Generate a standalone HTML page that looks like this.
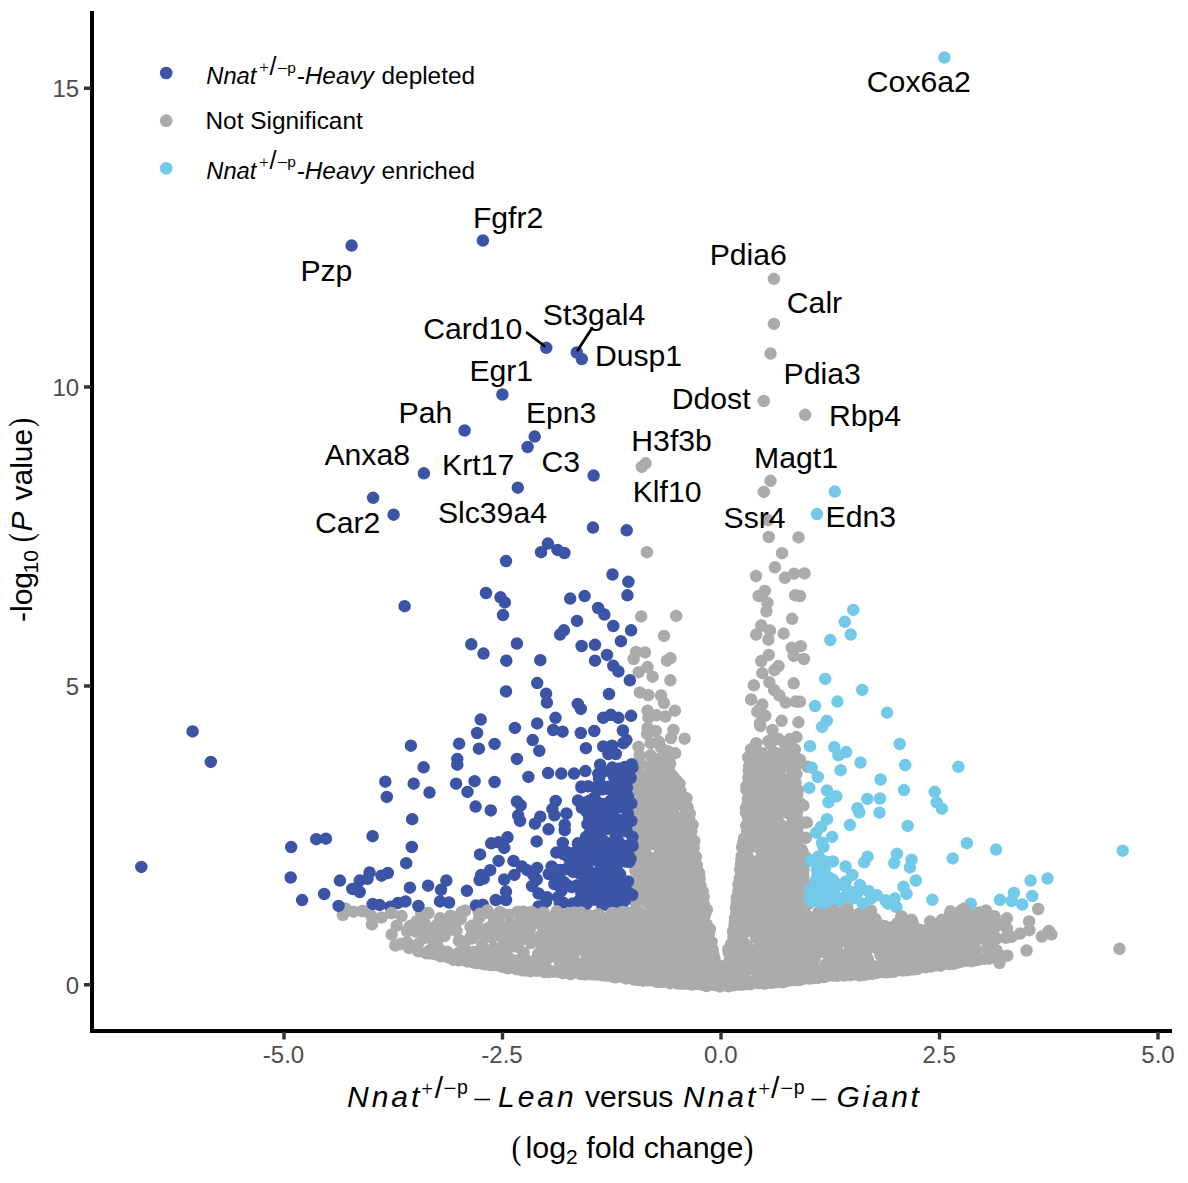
<!DOCTYPE html>
<html><head><meta charset="utf-8"><title>Volcano plot</title>
<style>
html,body{margin:0;padding:0;background:#fff;}
svg{display:block;font-family:"Liberation Sans",Arial,sans-serif;}
.tk{font-size:24px;fill:#4d4d4d;}
.gl{font-size:30.2px;fill:#000;}
.lg{font-size:24.4px;fill:#000;}
.it{font-style:italic;}
.sf{font-family:"Liberation Serif",serif;font-style:normal;}
.d{fill:none;stroke-linecap:round;stroke-width:12.5;}
.b{stroke:#3b54a5;} .g{stroke:#ababab;} .c{stroke:#73cae8;}
</style></head><body>
<svg width="1188" height="1183" viewBox="0 0 1188 1183">
<rect width="1188" height="1183" fill="#fff"/>
<!-- axes -->
<path d="M92 11V1033" stroke="#000" stroke-width="4" fill="none"/>
<path d="M90 1031H1172" stroke="#000" stroke-width="4" fill="none"/>
<g stroke="#333" stroke-width="3.4" fill="none">
<path d="M84 88.2H91M84 387H91M84 686H91M84 984.8H91"/>
<path d="M284 1032V1039.5M502.5 1032V1039.5M721 1032V1039.5M939.5 1032V1039.5M1158 1032V1039.5"/>
</g>
<g class="tk" text-anchor="end">
<text x="79.2" y="97">15</text><text x="79.2" y="395.8">10</text><text x="79.2" y="694.8">5</text><text x="79.2" y="993.6">0</text>
</g>
<g class="tk" text-anchor="middle">
<text x="283.5" y="1062.8">-5.0</text><text x="502" y="1062.8">-2.5</text><text x="720.8" y="1062.8">0.0</text><text x="939.2" y="1062.8">2.5</text><text x="1158" y="1062.8">5.0</text>
</g>
<!-- axis titles -->
<g font-size="30" fill="#000">
<text transform="translate(32.2,622) rotate(-90)">-log<tspan font-size="21" dy="6" dx="-1.5">10</tspan></text>
<text transform="translate(32.2,542.2) rotate(-90) scale(0.83 1)" class="sf" font-size="33">(</text>
<text transform="translate(32.2,531.5) rotate(-90)" class="it">P</text>
<text transform="translate(32.2,500.5) rotate(-90)">value</text>
<text transform="translate(32.2,427) rotate(-90) scale(0.83 1)" class="sf" font-size="33">)</text>
</g>
<g font-size="30" fill="#000">
<text x="347" y="1106.6" class="it" letter-spacing="3">Nnat</text>
<text x="421.3" y="1095.5" class="sf" font-size="21">+</text>
<text x="434.7" y="1097.5" font-size="30">/</text>
<text x="443.5" y="1095.5" class="sf" font-size="23">−</text>
<text x="457" y="1094" font-size="19.5">p</text>
<path d="M474.3 1099.5H490" stroke="#000" stroke-width="1.5"/>
<text x="498" y="1106.6" class="it" letter-spacing="3">Lean</text>
<text x="585" y="1106.6">versus</text>
<text x="683" y="1106.6" class="it" letter-spacing="3">Nnat</text>
<text x="758.2" y="1095.5" class="sf" font-size="21">+</text>
<text x="771" y="1097.5" font-size="30">/</text>
<text x="780.2" y="1095.5" class="sf" font-size="23">−</text>
<text x="793.7" y="1094" font-size="19.5">p</text>
<path d="M811.5 1099.5H826.3" stroke="#000" stroke-width="1.5"/>
<text x="836.4" y="1106.6" class="it" letter-spacing="2.7">Giant</text>
<text x="511.5" y="1159" class="sf" font-size="33" transform="translate(511.5 0) scale(0.9 1) translate(-511.5 0)">(</text>
<text x="525.5" y="1158" font-size="30.4">log<tspan font-size="21" dy="6">2</tspan><tspan dy="-6"> fold change</tspan></text>
<text x="743.5" y="1159" class="sf" font-size="33" transform="translate(743.5 0) scale(0.9 1) translate(-743.5 0)">)</text>
</g>
<!-- legend -->
<circle cx="166.2" cy="73" r="6.35" fill="#3b54a5"/><circle cx="166.2" cy="120.7" r="6.35" fill="#ababab"/><circle cx="166.2" cy="168.3" r="6.35" fill="#73cae8"/>
<g class="lg">
<text x="206.3" y="84" class="it" font-size="23.7">Nnat</text><text x="259" y="73.4" class="sf" font-size="17.5">+</text><text x="269.5" y="74.7" font-size="25">/</text><text x="277" y="74.8" class="sf" font-size="19.5">−</text><text x="287.2" y="72.7" font-size="15.5">p</text><text x="296.6" y="84" class="it">-Heavy</text><text x="381.5" y="84">depleted</text>
<text x="205.5" y="128.8">Not Significant</text>
<text x="206.3" y="178.5" class="it" font-size="23.7">Nnat</text><text x="259" y="167.9" class="sf" font-size="17.5">+</text><text x="269.5" y="169.2" font-size="25">/</text><text x="277" y="169.3" class="sf" font-size="19.5">−</text><text x="287.2" y="167.2" font-size="15.5">p</text><text x="296.6" y="178.5" class="it">-Heavy</text><text x="381.5" y="178.5">enriched</text>
</g>
<!-- points -->
<path class="d g" d="M645.9 937.1h0M760.6 877.5h0M641.2 915.0h0M823.8 917.4h0M759.3 819.6h0M934.1 948.9h0M766.1 758.3h0M641.8 792.1h0M676.2 828.4h0M529.3 937.7h0M721.5 985.2h0M791.6 960.4h0M686.0 882.0h0M972.4 936.9h0M761.8 961.7h0M681.6 904.9h0M741.5 923.6h0M659.6 869.2h0M666.2 844.1h0M791.5 837.4h0M558.7 915.8h0M697.4 939.6h0M800.3 803.3h0M682.5 834.4h0M945.8 957.7h0M871.7 932.5h0M762.4 958.0h0M794.3 873.5h0M685.7 891.7h0M786.4 878.8h0M664.1 760.2h0M884.0 941.0h0M736.9 903.1h0M751.8 956.3h0M637.3 806.2h0M833.9 973.5h0M808.6 917.4h0M761.5 798.0h0M699.8 888.8h0M643.0 891.4h0M497.7 916.1h0M935.7 935.6h0M608.1 966.5h0M601.9 959.3h0M635.9 932.3h0M779.3 778.9h0M600.2 923.0h0M480.0 913.7h0M699.9 900.0h0M788.8 888.7h0M749.8 793.2h0M682.6 934.7h0M761.7 969.9h0M645.3 935.1h0M790.2 792.6h0M716.4 968.4h0M746.5 915.1h0M773.6 849.4h0M761.3 810.0h0M662.2 814.0h0M787.8 830.2h0M871.4 921.5h0M611.8 976.4h0M870.4 933.4h0M702.6 966.6h0M598.6 951.7h0M759.4 954.8h0M623.8 927.9h0M599.0 917.4h0M465.0 910.7h0M763.7 885.4h0M801.9 951.2h0M746.5 786.1h0M659.9 972.1h0M517.4 961.4h0M738.2 973.3h0M580.9 912.6h0M654.3 924.9h0M798.7 896.0h0M654.6 920.0h0M494.1 948.3h0M694.8 927.6h0M624.1 957.3h0M612.9 955.2h0M672.5 843.5h0M656.3 920.2h0M849.3 942.4h0M627.3 925.7h0M776.7 803.3h0M755.0 912.5h0M645.2 819.3h0M693.6 984.0h0M755.4 846.5h0M635.6 975.5h0M641.6 808.3h0M495.8 929.1h0M902.9 931.6h0M678.5 853.2h0M802.3 934.5h0M647.1 733.9h0M686.1 810.8h0M997.2 923.5h0M656.2 954.8h0M746.7 885.9h0M801.0 876.7h0M583.2 948.2h0M682.4 841.6h0M644.3 850.6h0M549.8 937.4h0M705.7 984.1h0M764.1 876.2h0M782.6 870.5h0M901.4 964.8h0M605.3 935.8h0M804.5 971.0h0M683.1 805.7h0M856.9 946.2h0M811.0 934.1h0M755.7 814.1h0M641.1 797.3h0M749.8 767.7h0M990.2 931.0h0M644.4 861.0h0M883.6 970.4h0M779.0 889.8h0M884.3 926.0h0M683.9 861.8h0M748.0 802.6h0M772.0 784.3h0M691.0 854.8h0M742.9 951.0h0M767.8 915.3h0M794.7 818.4h0M441.6 951.0h0M533.9 941.1h0M568.2 961.3h0M547.3 959.1h0M852.7 932.3h0M950.6 949.0h0M683.9 951.4h0M471.8 938.6h0M614.4 913.2h0M773.6 857.7h0M768.0 948.0h0M754.2 911.7h0M624.8 973.4h0M797.9 790.5h0M731.8 968.0h0M652.6 976.4h0M752.2 881.2h0M593.4 948.2h0M551.7 919.8h0M956.5 935.3h0M699.5 980.2h0M641.1 923.4h0M779.4 795.3h0M670.3 904.2h0M910.6 944.3h0M647.3 963.7h0M699.1 966.7h0M796.0 866.2h0M558.3 942.0h0M755.4 805.3h0M450.4 915.8h0M783.5 930.7h0M788.7 754.0h0M532.9 939.7h0M659.6 940.1h0M746.3 789.6h0M517.3 943.4h0M653.5 891.9h0M875.2 938.1h0M709.7 969.2h0M849.0 930.4h0M734.9 982.3h0M554.5 955.4h0M736.2 916.1h0M672.7 917.9h0M901.3 941.1h0M470.7 936.6h0M605.6 938.6h0M794.6 934.9h0M960.4 924.5h0M659.5 853.6h0M586.7 955.6h0M760.0 807.0h0M748.3 800.6h0M857.7 914.9h0M747.0 920.7h0M662.1 940.7h0M416.6 928.8h0M973.3 928.7h0M757.2 798.0h0M898.8 951.5h0M798.2 876.2h0M557.9 917.0h0M661.2 855.3h0M596.6 920.5h0M689.7 960.0h0M776.1 948.9h0M803.1 967.6h0M574.5 912.5h0M793.2 781.0h0M440.1 918.2h0M741.1 883.4h0M814.4 920.4h0M874.6 967.1h0M587.3 928.8h0M572.4 961.4h0M690.5 957.4h0M489.2 955.1h0M905.3 948.7h0M583.9 966.2h0M633.9 851.4h0M782.0 794.5h0M880.7 945.6h0M795.1 847.2h0M681.5 903.7h0M596.4 929.6h0M685.2 928.1h0M512.5 939.4h0M800.4 947.3h0M644.9 926.2h0M659.0 791.4h0M809.2 932.0h0M673.7 821.5h0M657.1 830.7h0M740.3 918.8h0M932.3 951.4h0M693.0 860.1h0M748.4 777.6h0M854.7 929.4h0M667.9 971.4h0M652.6 877.6h0M745.6 928.8h0M638.7 883.9h0M572.8 941.7h0M689.9 948.9h0M987.9 943.0h0M773.1 981.7h0M757.9 786.9h0M549.1 957.3h0M841.0 933.2h0M686.2 832.7h0M792.4 943.1h0M943.7 929.3h0M653.8 936.6h0M520.0 940.8h0M908.2 926.6h0M812.3 940.1h0M770.3 940.1h0M777.5 820.0h0M658.7 884.5h0M700.8 978.0h0M667.8 931.6h0M739.5 948.3h0M797.3 794.1h0M829.9 962.6h0M868.1 912.7h0M622.3 911.9h0M541.0 916.7h0M755.9 936.8h0M712.7 953.1h0M743.9 887.6h0M525.6 919.5h0M594.2 973.0h0M736.4 913.9h0M637.3 931.1h0M841.2 920.6h0M637.6 834.2h0M826.2 914.1h0M878.4 935.3h0M783.0 762.2h0M776.4 936.3h0M661.4 850.9h0M795.5 782.8h0M948.8 931.4h0M795.9 904.7h0M667.4 891.4h0M667.9 783.3h0M654.8 907.2h0M928.7 941.7h0M763.3 795.1h0M942.1 924.2h0M513.7 962.1h0M669.2 860.6h0M798.7 910.1h0M826.5 969.9h0M472.5 930.8h0M741.8 935.4h0M788.5 863.5h0M941.7 932.3h0M956.3 943.9h0M809.5 965.5h0M833.0 944.4h0M813.4 970.5h0M576.0 919.2h0M793.7 791.4h0M729.0 972.3h0M655.7 892.7h0M767.5 883.0h0M696.4 982.3h0M535.6 918.9h0M634.5 893.6h0M474.7 961.8h0M437.0 924.8h0M614.0 917.4h0M820.5 940.1h0M666.7 775.7h0M679.3 909.7h0M777.6 881.4h0M876.5 946.8h0M746.2 900.6h0M760.4 956.0h0M763.5 818.4h0M791.7 824.5h0M683.0 889.9h0M820.2 918.1h0M761.1 973.7h0M479.3 917.9h0M956.2 952.4h0M640.7 826.8h0M791.6 895.8h0M645.1 844.0h0M803.0 894.1h0M856.0 919.2h0M668.7 876.9h0M676.1 871.3h0M681.1 978.2h0M935.8 948.6h0M501.8 963.3h0M800.1 956.3h0M887.0 932.7h0M668.7 782.6h0M907.0 950.7h0M563.4 952.0h0M767.3 812.1h0M934.9 925.1h0M652.4 795.6h0M745.6 927.1h0M890.5 950.3h0M642.8 837.7h0M763.4 903.5h0M581.3 918.0h0M635.4 871.0h0M691.0 974.5h0M795.9 966.7h0M603.1 944.9h0M766.7 889.7h0M724.3 969.6h0M600.9 964.4h0M738.2 967.3h0M653.2 798.9h0M665.7 954.4h0M638.3 887.2h0M647.9 970.9h0M753.4 931.3h0M669.0 948.8h0M422.6 912.5h0M517.8 933.3h0M957.5 958.2h0M675.1 823.7h0M435.7 933.3h0M796.5 843.9h0M833.9 911.1h0M732.6 948.4h0M598.1 960.3h0M508.8 914.9h0M825.1 939.6h0M703.3 967.8h0M572.7 963.4h0M697.8 931.4h0M761.6 904.2h0M866.1 949.1h0M568.4 963.1h0M641.7 885.5h0M666.0 788.5h0M598.4 914.2h0M755.5 777.1h0M775.4 836.7h0M511.5 946.5h0M764.7 794.6h0M917.4 931.9h0M792.2 921.6h0M525.8 913.6h0M651.8 836.0h0M607.4 948.0h0M640.7 978.3h0M661.8 803.7h0M807.0 894.9h0M786.2 922.2h0M531.3 943.1h0M657.2 938.2h0M484.2 959.8h0M657.3 927.3h0M680.4 835.7h0M593.9 932.5h0M775.1 873.5h0M636.7 836.5h0M497.5 949.7h0M703.7 940.3h0M752.1 845.5h0M754.2 880.5h0M805.6 894.1h0M738.0 907.4h0M948.4 950.9h0M607.2 925.0h0M657.7 813.6h0M672.8 857.2h0M742.9 949.1h0M797.4 942.3h0M734.5 931.2h0M663.7 952.0h0M657.6 916.8h0M660.4 965.3h0M763.9 900.2h0M772.3 948.7h0M765.0 903.6h0M636.9 957.9h0M808.8 931.7h0M683.2 880.9h0M646.1 793.7h0M675.9 941.0h0M855.0 931.6h0M737.3 932.7h0M773.4 967.2h0M819.6 972.1h0M661.2 821.4h0M788.3 931.4h0M835.1 957.9h0M638.0 944.4h0M644.7 940.2h0M763.7 859.0h0M757.2 795.1h0M671.8 850.1h0M684.9 876.1h0M850.6 975.2h0M569.9 952.8h0M809.2 928.7h0M588.6 929.7h0M695.9 971.8h0M735.9 969.2h0M835.6 944.1h0M963.5 956.9h0M541.7 919.6h0M820.4 951.9h0M542.2 948.9h0M664.2 854.7h0M948.8 957.8h0M876.5 967.7h0M954.9 934.8h0M637.9 786.3h0M767.4 847.1h0M907.2 956.9h0M739.9 882.4h0M792.6 763.5h0M504.4 942.3h0M660.6 950.3h0M591.5 916.1h0M619.4 919.0h0M821.9 917.2h0M659.6 907.3h0M772.4 906.0h0M421.2 913.1h0M542.9 912.7h0M650.1 959.7h0M586.8 966.0h0M746.1 825.8h0M790.8 947.9h0M734.4 973.4h0M955.6 920.4h0M635.7 913.0h0M656.1 863.6h0M709.9 929.2h0M671.6 880.3h0M689.6 953.6h0M868.8 915.5h0M741.0 863.7h0M746.5 967.0h0M696.6 914.9h0M643.6 812.0h0M663.7 862.6h0M987.6 940.2h0M754.2 777.9h0M791.0 877.3h0M537.2 923.0h0M624.4 915.8h0M682.8 800.7h0M588.8 925.6h0M845.6 955.5h0M763.6 811.2h0M805.4 891.1h0M783.0 785.9h0M654.3 970.1h0M467.1 952.1h0M775.6 922.9h0M550.9 944.8h0M630.7 928.7h0M880.3 954.8h0M982.0 928.9h0M635.5 851.7h0M803.8 930.7h0M691.3 928.0h0M665.0 853.4h0M722.3 979.4h0M693.3 944.4h0M679.9 822.0h0M640.0 974.3h0M824.9 942.2h0M744.0 944.1h0M767.7 811.0h0M572.5 927.4h0M666.6 966.0h0M782.7 915.4h0M680.9 892.4h0M621.8 972.6h0M812.1 949.7h0M683.8 911.1h0M788.6 846.8h0M781.0 931.4h0M796.4 774.1h0M865.8 931.6h0M950.9 937.9h0M507.3 946.7h0M898.9 929.1h0M698.2 897.5h0M637.8 911.0h0M754.5 804.4h0M801.4 860.5h0M788.8 794.8h0M755.1 888.5h0M803.4 877.0h0M959.1 913.5h0M767.8 842.9h0M644.9 846.3h0M751.0 814.3h0M647.6 899.0h0M679.2 843.8h0M660.1 785.4h0M744.4 982.5h0M543.1 966.1h0M537.2 958.4h0M489.6 927.3h0M638.5 923.2h0M686.6 823.5h0M672.0 824.0h0M669.1 839.1h0M645.2 968.4h0M791.6 946.9h0M914.8 959.3h0M778.8 869.6h0M760.9 776.9h0M773.3 935.2h0M795.7 766.5h0M602.4 924.4h0M740.7 966.1h0M674.9 972.0h0M807.1 930.9h0M674.3 931.9h0M742.8 977.4h0M807.9 961.8h0M732.3 971.8h0M729.6 961.0h0M531.0 919.7h0M970.8 921.4h0M688.1 885.7h0M777.6 910.0h0M888.6 941.2h0M635.8 789.6h0M702.2 978.4h0M952.9 946.3h0M780.2 842.0h0M681.1 983.5h0M745.7 909.2h0M937.8 930.6h0M963.0 922.7h0M796.2 814.5h0M705.9 928.2h0M643.7 914.5h0M641.4 802.6h0M636.5 899.5h0M669.3 851.6h0M584.8 962.9h0M779.7 883.1h0M901.0 949.0h0M788.3 813.3h0M559.0 929.4h0M681.3 973.1h0M776.3 850.1h0M692.8 947.0h0M949.0 929.3h0M624.5 927.2h0M729.9 952.0h0M407.0 942.0h0M635.6 864.0h0M636.6 893.7h0M841.4 969.4h0M729.6 954.0h0M686.4 947.1h0M556.6 949.8h0M559.7 961.8h0M849.7 931.9h0M640.3 764.7h0M458.9 940.8h0M695.8 981.0h0M572.9 918.3h0M797.2 847.9h0M684.1 912.5h0M505.1 958.7h0M675.9 960.9h0M754.5 908.0h0M664.8 976.4h0M772.6 924.1h0M779.8 800.8h0M554.9 935.0h0M767.1 831.1h0M761.9 858.7h0M795.3 978.9h0M976.5 929.8h0M886.5 953.4h0M881.4 932.5h0M948.1 959.5h0M881.4 955.7h0M780.8 882.0h0M631.4 957.2h0M691.4 918.5h0M792.3 844.3h0M641.8 886.8h0M743.7 977.2h0M432.5 931.4h0M738.4 979.5h0M886.1 932.5h0M662.9 946.3h0M778.7 892.9h0M750.5 982.1h0M641.4 823.2h0M563.5 937.6h0M892.3 967.2h0M801.0 968.3h0M953.3 932.0h0M458.5 953.0h0M530.6 925.8h0M770.3 839.3h0M824.1 975.9h0M882.2 934.0h0M665.4 812.0h0M904.4 955.4h0M653.1 761.9h0M796.5 902.5h0M625.5 946.9h0M778.5 908.3h0M833.6 961.4h0M748.3 893.1h0M592.7 944.5h0M667.9 832.8h0M533.4 970.3h0M651.2 790.2h0M643.0 878.9h0M873.9 926.9h0M560.4 970.4h0M598.7 923.4h0M684.8 853.2h0M689.7 908.4h0M580.4 921.1h0M734.1 969.3h0M860.7 913.7h0M772.1 853.5h0M605.8 923.0h0M642.5 791.2h0M636.7 943.8h0M744.4 878.6h0M894.2 952.1h0M662.4 878.0h0M759.4 892.3h0M791.1 805.7h0M722.2 972.9h0M762.5 837.0h0M652.2 802.4h0M595.0 925.3h0M758.1 920.1h0M740.7 920.1h0M679.0 925.9h0M764.4 817.8h0M850.8 934.5h0M790.6 964.8h0M668.4 822.3h0M709.6 944.0h0M543.2 939.4h0M808.6 929.6h0M792.6 935.4h0M557.8 957.8h0M796.8 879.0h0M793.8 849.1h0M685.0 837.7h0M741.2 864.0h0M874.6 923.0h0M567.4 914.5h0M670.5 861.1h0M639.9 960.0h0M788.7 800.4h0M771.1 794.7h0M648.9 865.1h0M979.1 912.8h0M469.5 952.4h0M750.6 964.5h0M755.2 872.9h0M640.5 946.3h0M587.2 968.1h0M532.9 964.6h0M803.4 880.5h0M653.4 833.7h0M676.2 929.8h0M779.8 787.3h0M879.7 933.0h0M776.9 809.9h0M882.0 951.6h0M634.4 975.4h0M676.9 901.7h0M735.4 970.6h0M814.3 937.3h0M797.7 837.3h0M543.2 938.0h0M634.7 823.9h0M623.5 913.1h0M503.2 932.4h0M659.8 953.2h0M795.2 808.6h0M742.4 905.4h0M686.5 898.3h0M706.9 981.5h0M652.8 918.9h0M748.8 969.6h0M770.7 920.7h0M740.8 909.9h0M799.1 802.8h0M784.6 795.0h0M782.7 804.3h0M551.5 971.2h0M636.6 952.5h0M933.1 965.0h0M655.0 818.7h0M447.4 951.8h0M744.5 921.5h0M909.8 951.5h0M864.4 965.6h0M780.0 919.6h0M767.7 937.4h0M714.2 974.6h0M624.8 954.7h0M543.5 964.1h0M770.7 782.0h0M862.9 964.6h0M752.8 774.7h0M678.6 871.2h0M619.2 953.0h0M748.4 782.3h0M735.8 933.1h0M791.3 811.4h0M652.0 890.6h0M788.8 958.5h0M703.0 934.2h0M781.2 908.2h0M652.9 782.2h0M671.6 969.5h0M763.5 886.1h0M695.3 885.4h0M696.9 983.9h0M647.3 812.1h0M686.8 856.9h0M765.9 866.8h0M661.4 757.3h0M807.7 917.4h0M852.3 919.4h0M760.7 806.9h0M679.1 951.6h0M650.5 966.3h0M703.9 911.5h0M658.2 840.0h0M692.2 939.4h0M752.9 842.3h0M897.8 937.3h0M666.2 921.5h0M674.6 862.2h0M809.8 974.0h0M648.3 800.0h0M697.5 959.8h0M762.7 981.5h0M594.8 962.2h0M670.9 801.2h0M775.3 784.2h0M689.7 813.5h0M416.1 931.8h0M473.9 952.0h0M745.2 932.2h0M576.6 938.2h0M586.4 962.8h0M983.1 931.6h0M668.4 849.2h0M763.9 866.4h0M705.5 912.6h0M788.8 907.3h0M747.9 951.6h0M649.3 793.4h0M501.5 930.6h0M549.1 928.9h0M604.1 959.7h0M674.0 932.7h0M607.3 943.3h0M689.6 882.7h0M664.7 964.9h0M788.2 917.7h0M875.2 930.9h0M759.7 948.3h0M798.5 870.7h0M807.9 956.6h0M950.1 914.5h0M438.1 953.7h0M640.2 795.0h0M750.0 837.2h0M659.0 943.9h0M845.7 941.2h0M510.8 942.0h0M536.6 914.6h0M461.7 912.0h0M491.8 926.1h0M602.0 926.7h0M863.8 937.5h0M859.5 931.0h0M526.1 927.0h0M658.7 891.8h0M812.2 935.7h0M904.3 940.7h0M988.9 939.4h0M855.9 962.1h0M664.7 941.4h0M687.3 809.4h0M792.5 771.0h0M906.2 920.6h0M944.1 923.6h0M755.7 830.7h0M753.2 901.7h0M799.0 893.0h0M773.4 761.2h0M640.9 796.4h0M687.5 961.9h0M854.7 961.0h0M639.4 784.0h0M803.2 969.8h0M855.5 969.2h0M647.9 776.7h0M877.0 922.3h0M954.4 942.7h0M501.0 956.1h0M772.8 971.9h0M646.0 978.5h0M687.9 936.1h0M706.3 965.7h0M915.5 931.0h0M656.8 839.9h0M738.1 945.0h0M784.5 811.4h0M755.4 834.0h0M775.1 777.1h0M813.3 978.1h0M644.1 881.5h0M658.8 939.4h0M689.6 847.0h0M765.8 975.3h0M743.7 896.7h0M777.8 954.9h0M816.0 972.3h0M758.3 805.2h0M657.9 805.3h0M764.9 803.1h0M672.4 820.8h0M840.0 940.5h0M691.4 968.3h0M706.0 946.1h0M766.5 899.2h0M752.9 880.2h0M978.0 959.9h0M787.2 758.5h0M621.1 916.0h0M584.6 911.2h0M676.2 816.9h0M785.7 786.4h0M777.8 851.6h0M778.0 900.2h0M746.5 917.9h0M733.8 957.1h0M497.5 958.9h0M524.8 938.1h0M589.9 972.1h0M574.1 931.6h0M803.2 871.9h0M683.6 959.3h0M845.3 938.3h0M678.4 860.7h0M646.5 855.6h0M783.5 868.8h0M786.2 840.1h0M667.3 899.0h0M741.3 907.6h0M776.1 796.8h0M657.9 795.1h0M792.9 953.3h0M801.1 885.3h0M667.1 894.4h0M499.4 954.9h0M487.4 910.6h0M518.8 926.6h0M784.9 881.8h0M678.4 848.6h0M873.2 947.1h0M700.9 917.4h0M658.7 977.1h0M760.2 950.5h0M673.1 809.1h0M517.8 944.8h0M771.5 968.3h0M952.9 932.6h0M883.0 931.0h0M784.4 779.3h0M743.8 886.2h0M932.1 935.9h0M689.4 849.1h0M861.0 913.9h0M781.1 753.6h0M476.2 933.5h0M733.0 966.0h0M771.1 795.5h0M772.8 957.0h0M758.2 822.3h0M763.0 802.9h0M605.4 923.6h0M755.9 783.0h0M639.8 935.4h0M675.3 982.6h0M647.8 879.3h0M744.2 867.1h0M772.0 796.4h0M823.1 951.9h0M667.6 847.3h0M439.5 930.7h0M696.6 943.8h0M512.8 960.3h0M692.7 906.4h0M906.9 921.3h0M666.6 899.1h0M849.4 965.4h0M760.6 914.0h0M638.1 858.8h0M612.2 934.3h0M658.1 884.5h0M707.4 944.7h0M649.7 837.1h0M883.7 950.5h0M641.4 848.6h0M608.8 931.9h0M681.6 954.6h0M659.1 938.5h0M612.9 960.5h0M568.7 929.3h0M693.6 900.6h0M756.8 769.8h0M836.0 927.5h0M788.4 947.9h0M795.5 918.1h0M657.8 865.1h0M754.3 805.3h0M761.3 976.2h0M949.0 942.3h0M927.5 936.5h0M664.5 920.9h0M765.9 919.7h0M842.7 912.7h0M760.3 804.3h0M550.9 925.8h0M680.2 931.0h0M593.3 965.9h0M653.1 966.9h0M527.4 961.6h0M687.6 887.7h0M560.8 967.6h0M782.7 835.1h0M792.1 803.7h0M799.1 896.3h0M769.8 872.1h0M825.4 926.7h0M658.4 805.2h0M897.8 950.8h0M613.3 976.8h0M860.9 937.9h0M611.3 921.0h0M747.4 946.1h0M620.0 951.6h0M798.0 803.6h0M655.9 909.2h0M568.8 916.5h0M992.7 944.3h0M627.6 918.5h0M669.4 962.4h0M652.4 764.6h0M662.8 969.5h0M778.7 969.6h0M689.8 926.5h0M602.7 966.3h0M986.8 938.0h0M791.3 948.4h0M698.5 895.6h0M769.2 834.0h0M639.7 817.4h0M738.3 891.3h0M679.6 945.9h0M633.6 942.1h0M639.5 978.1h0M616.8 968.3h0M640.4 763.3h0M656.4 875.9h0M789.2 810.2h0M589.7 939.3h0M844.5 934.6h0M844.7 955.6h0M560.2 914.7h0M482.7 958.1h0M629.5 927.7h0M625.5 924.2h0M629.7 922.0h0M894.7 944.3h0M800.1 947.8h0M677.5 899.9h0M663.8 835.0h0M777.0 888.6h0M790.2 789.5h0M642.4 843.7h0M916.8 952.4h0M435.7 942.2h0M739.8 939.3h0M601.4 971.7h0M746.6 906.1h0M634.6 975.0h0M967.2 916.1h0M758.9 949.2h0M571.0 968.6h0M501.8 948.7h0M743.7 948.5h0M853.2 945.3h0M508.0 927.8h0M837.0 946.4h0M775.3 911.5h0M794.7 805.0h0M577.0 927.8h0M740.4 961.8h0M809.0 972.0h0M889.9 938.9h0M886.7 927.3h0M765.0 828.5h0M694.4 873.6h0M753.4 866.1h0M898.3 945.0h0M734.6 929.2h0M796.6 904.7h0M482.7 935.8h0M785.6 798.8h0M774.0 752.4h0M842.3 939.8h0M648.4 717.6h0M641.1 970.7h0M948.8 925.7h0M640.0 851.4h0M763.0 921.6h0M641.7 839.6h0M602.8 959.0h0M657.0 897.6h0M660.9 934.8h0M974.1 943.9h0M774.7 801.4h0M938.1 930.2h0M582.0 925.2h0M785.9 748.5h0M570.8 966.9h0M980.8 931.2h0M685.2 829.6h0M470.5 927.1h0M627.4 959.4h0M867.7 926.6h0M751.2 908.7h0M785.5 842.8h0M660.5 848.5h0M780.3 859.5h0M758.2 806.8h0M743.0 843.6h0M807.4 898.4h0M674.5 860.5h0M691.9 894.1h0M601.3 947.9h0M748.6 872.1h0M639.4 947.6h0M640.8 963.6h0M703.0 967.4h0M831.5 917.6h0M535.5 964.3h0M802.9 888.9h0M948.6 959.1h0M677.8 881.8h0M652.0 943.2h0M764.0 952.0h0M793.8 921.1h0M796.0 926.1h0M652.5 872.9h0M812.3 947.8h0M742.0 875.7h0M884.0 960.2h0M649.3 963.3h0M719.8 965.8h0M977.1 956.3h0M651.0 954.1h0M640.0 854.5h0M765.8 798.7h0M777.9 958.5h0M611.5 967.6h0M748.4 924.3h0M806.2 953.3h0M671.5 774.9h0M649.9 766.4h0M753.1 803.5h0M638.1 832.9h0M951.3 958.6h0M929.1 938.7h0M702.8 942.9h0M652.8 935.3h0M583.7 949.2h0M748.0 831.8h0M792.6 911.7h0M657.4 798.0h0M679.6 783.8h0M574.2 940.6h0M867.4 934.1h0M749.1 870.0h0M649.6 825.6h0M871.9 929.5h0M625.9 969.0h0M933.9 955.8h0M538.7 916.1h0M784.4 847.9h0M640.8 863.1h0M557.4 944.6h0M681.6 967.1h0M762.2 911.8h0M558.3 945.6h0M796.9 789.3h0M953.6 933.4h0M657.5 905.9h0M613.7 969.4h0M635.0 856.7h0M650.4 872.7h0M655.9 977.5h0M615.8 945.2h0M640.6 855.0h0M735.0 918.0h0M749.1 833.6h0M769.2 891.9h0M576.2 913.4h0M754.6 958.4h0M675.6 871.8h0M756.2 924.3h0M681.0 924.2h0M704.9 981.1h0M719.6 976.7h0M627.5 977.2h0M850.0 949.2h0M867.8 968.5h0M670.1 947.0h0M941.1 949.1h0M705.4 948.3h0M678.8 884.8h0M621.5 915.7h0M641.3 916.4h0M741.8 952.0h0M800.3 824.2h0M825.1 935.2h0M916.2 945.6h0M973.0 947.8h0M925.1 931.3h0M819.4 939.0h0M761.3 765.2h0M829.9 973.9h0M874.7 940.7h0M494.0 920.3h0M693.7 926.1h0M627.9 918.8h0M676.8 865.8h0M663.8 858.2h0M815.3 968.6h0M788.6 907.6h0M802.1 936.6h0M484.6 964.3h0M631.9 930.4h0M781.4 954.7h0M746.9 835.1h0M866.4 927.0h0M611.1 917.2h0M650.0 816.0h0M781.7 794.9h0M922.7 935.6h0M668.2 856.9h0M802.6 852.2h0M631.7 917.6h0M640.3 855.2h0M864.8 960.3h0M622.9 938.2h0M568.7 964.8h0M565.7 915.7h0M984.8 933.9h0M622.8 918.0h0M695.2 882.1h0M813.4 929.4h0M875.2 918.9h0M605.0 954.5h0M638.3 792.0h0M695.6 880.2h0M911.3 953.6h0M649.8 926.2h0M655.6 916.7h0M494.0 936.0h0M673.1 977.9h0M748.0 857.4h0M676.9 802.0h0M504.9 928.7h0M769.5 972.9h0M694.0 965.0h0M650.6 786.2h0M666.0 776.0h0M663.7 809.9h0M807.9 944.6h0M649.3 974.1h0M659.3 920.5h0M558.9 920.4h0M755.3 869.7h0M552.9 930.5h0M768.0 900.3h0M687.6 961.6h0M753.8 890.6h0M904.5 937.2h0M844.7 936.0h0M740.2 869.3h0M653.3 907.8h0M591.2 964.8h0M832.6 940.1h0M848.4 965.4h0M555.4 924.4h0M852.8 966.0h0M636.5 829.6h0M806.2 960.9h0M923.4 933.0h0M660.5 931.2h0M893.1 966.2h0M669.6 866.3h0M815.9 968.6h0M761.6 967.8h0M969.1 914.9h0M553.5 928.4h0M742.3 883.5h0M781.0 936.2h0M731.8 970.2h0M803.0 918.0h0M687.5 850.5h0M786.4 845.6h0M827.9 919.5h0M657.7 862.7h0M759.6 709.5h0M770.7 786.3h0M764.9 814.1h0M909.2 955.4h0M476.5 926.1h0M858.7 967.8h0M786.8 919.1h0M790.1 931.7h0M837.1 973.2h0M714.4 959.0h0M752.2 843.0h0M634.6 824.2h0M700.6 918.2h0M784.0 782.3h0M865.2 946.8h0M785.2 946.8h0M628.4 937.0h0M753.9 873.2h0M856.2 962.4h0M772.8 868.6h0M755.6 790.9h0M770.9 962.3h0M899.7 947.1h0M669.1 869.8h0M688.9 885.5h0M623.2 944.8h0M744.3 839.6h0M858.2 918.2h0M781.9 833.6h0M831.5 950.4h0M627.4 943.2h0M757.1 861.3h0M663.6 955.4h0M472.5 959.6h0M898.7 958.4h0M864.7 974.7h0M460.8 919.2h0M673.3 789.0h0M753.8 833.7h0M576.2 945.4h0M897.0 923.6h0M769.2 818.4h0M663.3 856.4h0M834.0 927.2h0M776.4 804.5h0M551.1 917.7h0M700.6 961.9h0M796.6 856.9h0M775.4 771.7h0M667.0 870.3h0M864.5 971.3h0M624.9 953.5h0M760.4 901.0h0M840.5 922.3h0M807.8 916.1h0M669.5 892.6h0M839.2 922.5h0M796.0 863.1h0M856.5 945.3h0M741.0 872.3h0M683.8 963.0h0M942.6 926.8h0M889.2 935.1h0M783.0 911.5h0M932.8 965.0h0M967.7 911.5h0M911.7 946.4h0M589.8 951.1h0M625.3 951.2h0M696.0 892.0h0M686.2 938.5h0M778.0 885.3h0M945.8 949.8h0M782.2 879.2h0M702.0 981.8h0M664.1 928.9h0M694.1 886.6h0M401.6 916.1h0M846.7 920.5h0M529.6 930.2h0M793.6 910.8h0M776.7 923.2h0M685.1 805.3h0M837.2 951.3h0M756.0 937.7h0M804.8 944.4h0M587.8 917.0h0M770.3 888.3h0M788.4 853.4h0M595.3 970.9h0M685.6 928.8h0M792.7 854.6h0M678.1 895.3h0M835.3 961.9h0M900.0 941.4h0M712.4 952.1h0M637.9 925.3h0M834.5 922.9h0M600.9 972.0h0M584.8 925.0h0M780.7 777.1h0M781.0 842.8h0M587.7 972.5h0M674.7 967.8h0M859.0 913.7h0M913.2 924.3h0M763.7 811.4h0M801.8 891.6h0M765.2 848.9h0M638.6 929.0h0M756.1 899.1h0M675.6 783.5h0M987.8 947.1h0M765.1 971.1h0M741.8 855.9h0M730.4 960.3h0M608.6 952.6h0M826.9 913.7h0M740.6 901.5h0M650.2 882.2h0M501.8 913.4h0M944.0 955.1h0M694.0 924.8h0M644.4 794.6h0M476.0 933.6h0M633.6 947.8h0M640.5 896.1h0M892.4 953.4h0M749.6 804.5h0M800.9 963.1h0M708.0 951.7h0M796.6 826.3h0M667.7 949.5h0M746.5 807.1h0M693.6 957.9h0M764.8 781.1h0M867.4 920.7h0M540.7 916.8h0M581.2 926.5h0M700.9 892.1h0M761.9 853.1h0M827.3 915.3h0M797.8 956.9h0M938.2 933.2h0M927.7 949.4h0M781.5 784.2h0M706.4 935.3h0M842.8 913.1h0M659.5 905.9h0M643.5 953.0h0M749.5 897.6h0M869.9 917.9h0M663.0 909.9h0M675.7 819.8h0M996.6 938.6h0M759.9 723.5h0M664.6 974.7h0M647.0 855.3h0M683.7 951.3h0M503.9 943.5h0M667.2 775.8h0M659.3 772.0h0M676.2 947.6h0M954.8 930.0h0M520.0 920.8h0M646.2 972.6h0M931.0 929.9h0M755.2 760.3h0M747.6 893.8h0M568.5 916.7h0M637.5 809.6h0M800.5 947.8h0M784.6 900.1h0M774.8 816.7h0M655.6 946.9h0M751.9 879.3h0M787.6 878.1h0M770.4 799.0h0M658.8 907.5h0M706.7 941.3h0M567.6 918.0h0M444.6 936.0h0M663.4 947.1h0M679.3 834.0h0M641.3 922.8h0M599.9 915.9h0M786.1 891.0h0M739.5 943.4h0M531.5 911.9h0M828.8 922.7h0M744.2 926.7h0M880.4 937.5h0M697.9 878.7h0M648.4 795.0h0M661.0 920.9h0M800.6 859.0h0M777.3 954.8h0M695.0 869.8h0M770.3 769.3h0M866.3 958.7h0M953.5 942.3h0M898.4 929.3h0M706.1 969.7h0M660.6 780.8h0M703.4 912.1h0M794.3 959.4h0M774.0 841.4h0M940.6 941.7h0M671.3 960.2h0M823.8 972.0h0M884.6 960.6h0M878.3 948.3h0M732.4 961.7h0M956.6 922.5h0M591.7 966.7h0M837.9 943.8h0M469.1 954.0h0M823.4 938.5h0M548.0 926.0h0M933.1 953.7h0M756.4 979.1h0M754.3 863.7h0M608.8 932.0h0M689.7 947.7h0M676.7 796.9h0M474.2 959.1h0M759.2 938.3h0M674.7 806.6h0M756.2 863.3h0M642.0 859.5h0M748.8 953.1h0M711.6 941.8h0M634.9 858.1h0M782.9 963.7h0M904.2 932.9h0M845.5 912.0h0M766.8 788.8h0M703.5 913.6h0M870.5 912.2h0M579.6 964.2h0M482.5 929.8h0M771.3 901.3h0M744.5 897.2h0M782.0 782.9h0M842.4 922.6h0M601.8 937.3h0M649.7 871.9h0M754.4 952.2h0M712.9 952.0h0M665.7 941.1h0M728.8 952.3h0M741.1 948.8h0M782.5 931.3h0M951.1 924.4h0M780.4 809.6h0M769.1 870.1h0M673.8 799.2h0M788.2 858.3h0M666.9 967.5h0M662.0 882.7h0M611.3 970.9h0M487.2 958.0h0M890.5 953.5h0M690.1 927.0h0M958.3 935.8h0M678.8 864.2h0M518.3 923.5h0M644.0 880.8h0M786.0 905.0h0M673.1 844.2h0M498.6 962.7h0M782.9 907.6h0M800.7 979.1h0M755.6 954.9h0M633.7 950.1h0M670.7 966.5h0M677.4 864.9h0M646.3 775.6h0M574.3 950.8h0M775.1 931.3h0M699.4 951.5h0M775.7 888.0h0M798.8 934.0h0M637.9 787.4h0M795.4 877.2h0M541.1 935.3h0M932.5 952.4h0M654.2 800.1h0M681.2 804.3h0M970.6 955.4h0M648.2 942.9h0M647.5 856.6h0M809.4 977.9h0M667.8 959.5h0M746.9 841.4h0M754.6 817.2h0M730.3 959.9h0M760.3 880.0h0M505.6 930.7h0M916.4 958.1h0M895.7 934.3h0M584.6 936.5h0M663.3 818.8h0M763.7 863.6h0M972.1 958.0h0M540.3 963.1h0M618.6 974.5h0M918.4 954.7h0M573.4 921.8h0M771.2 819.5h0M655.6 818.1h0M625.6 956.2h0M636.4 909.9h0M669.5 904.2h0M741.0 977.9h0M806.6 959.0h0M664.1 868.3h0M679.2 795.0h0M808.0 904.3h0M950.8 958.1h0M523.3 911.8h0M454.8 930.3h0M634.9 810.2h0M554.3 917.6h0M644.0 861.1h0M784.0 877.0h0M552.1 920.9h0M462.3 955.6h0M683.6 841.2h0M949.0 923.5h0M734.0 964.1h0M799.2 888.3h0M688.3 915.6h0M658.0 928.4h0M763.5 870.8h0M668.7 933.2h0M681.4 917.3h0M789.1 889.3h0M765.4 783.3h0M770.8 825.6h0M574.9 961.6h0M631.3 936.6h0M645.8 940.8h0M796.2 826.0h0M756.2 899.4h0M744.5 841.2h0M936.6 927.1h0M775.7 941.6h0M746.4 921.3h0M841.5 965.4h0M587.9 916.6h0M564.4 931.5h0M849.9 950.0h0M616.3 965.5h0M649.0 947.7h0M570.9 942.4h0M752.8 862.9h0M752.7 960.0h0M862.1 926.3h0M670.1 784.2h0M790.5 935.4h0M813.5 936.2h0M738.9 978.9h0M586.7 925.3h0M924.3 930.7h0M829.1 935.4h0M655.6 919.5h0M965.6 944.7h0M741.5 978.4h0M764.4 763.7h0M608.1 970.8h0M923.7 946.5h0M813.0 960.2h0M592.9 974.3h0M610.5 945.4h0M681.5 841.7h0M612.2 927.8h0M736.5 929.9h0M683.1 966.1h0M939.6 955.5h0M758.0 886.4h0M633.1 936.1h0M560.6 928.8h0M455.4 923.4h0M761.0 818.2h0M669.5 929.4h0M836.2 959.4h0M506.3 929.4h0M462.2 952.2h0M646.3 865.8h0M897.4 955.3h0M548.1 945.8h0M681.5 844.9h0M660.3 898.0h0M625.7 911.8h0M656.3 862.2h0M682.2 885.1h0M543.5 970.9h0M754.7 769.4h0M797.2 953.4h0M662.2 785.0h0M671.7 928.9h0M765.7 866.1h0M664.9 795.1h0M795.0 964.4h0M970.9 945.3h0M666.9 802.8h0M742.4 980.3h0M788.7 901.3h0M843.8 963.0h0M709.0 928.3h0M538.8 920.8h0M932.4 937.3h0M835.2 971.0h0M738.1 955.3h0M598.9 932.6h0M488.4 927.9h0M638.7 970.8h0M656.3 844.9h0M645.7 805.7h0M638.2 949.5h0M676.5 885.6h0M763.7 824.4h0M645.9 866.2h0M662.1 907.3h0M691.1 943.5h0M773.9 826.3h0M650.3 805.7h0M680.4 790.9h0M485.6 950.3h0M752.6 919.0h0M829.3 915.1h0M866.0 951.0h0M547.5 969.4h0M761.1 791.6h0M989.3 945.6h0M659.1 887.0h0M779.7 827.3h0M497.5 963.6h0M831.4 914.7h0M658.0 814.0h0M671.8 779.0h0M665.9 954.7h0M654.8 858.5h0M690.1 862.8h0M774.5 887.5h0M680.6 823.5h0M781.2 825.2h0M543.1 928.6h0M642.4 873.6h0M797.3 807.0h0M763.9 832.1h0M764.1 817.1h0M852.9 937.6h0M797.3 832.1h0M778.1 866.1h0M914.4 949.7h0M643.3 793.6h0M771.4 938.1h0M651.0 800.5h0M571.6 937.2h0M740.4 908.6h0M943.7 942.1h0M677.4 829.3h0M759.9 946.0h0M782.8 894.8h0M645.1 940.1h0M653.8 878.2h0M687.3 956.4h0M784.3 872.1h0M677.3 860.6h0M801.4 854.0h0M945.4 924.4h0M863.2 971.0h0M590.0 947.1h0M611.9 913.1h0M714.4 959.8h0M751.1 787.4h0M883.8 932.2h0M636.0 916.7h0M452.1 924.5h0M811.9 966.8h0M634.8 826.9h0M764.1 768.7h0M783.7 920.2h0M820.8 930.8h0M576.0 928.7h0M751.0 797.8h0M701.3 942.2h0M907.1 942.3h0M428.2 913.1h0M703.6 897.0h0M969.5 929.2h0M605.1 943.6h0M591.3 916.9h0M686.4 813.2h0M522.8 925.8h0M674.0 778.4h0M760.9 875.6h0M482.0 945.6h0M521.3 958.7h0M750.2 958.3h0M688.1 852.1h0M775.0 866.6h0M920.6 963.9h0M629.2 921.6h0M690.4 939.9h0M778.8 905.3h0M680.4 910.3h0M657.0 826.6h0M776.6 966.5h0M536.7 970.8h0M792.8 792.8h0M746.7 851.4h0M670.8 871.6h0M830.8 948.7h0M607.2 968.3h0M656.9 951.0h0M831.7 965.0h0M640.0 882.5h0M656.2 900.1h0M407.0 931.2h0M917.6 945.3h0M872.2 965.7h0M765.2 842.2h0M589.5 920.3h0M666.5 974.6h0M750.8 863.6h0M634.0 882.9h0M668.4 819.9h0M919.8 964.0h0M931.4 944.9h0M860.7 972.9h0M655.2 974.7h0M585.4 934.6h0M765.8 859.4h0M816.1 977.3h0M794.4 828.0h0M582.8 947.4h0M673.3 883.3h0M569.1 913.2h0M773.7 914.3h0M800.1 931.6h0M772.6 921.7h0M651.7 801.0h0M767.1 832.9h0M767.9 779.0h0M636.7 864.6h0M923.7 963.1h0M930.9 963.7h0M668.1 948.7h0M785.6 963.5h0M796.5 969.2h0M665.2 919.7h0M768.5 870.0h0M673.1 800.1h0M774.1 820.0h0M951.9 941.3h0M771.6 862.6h0M592.3 960.5h0M781.8 908.4h0M699.5 937.8h0M689.6 827.8h0M658.6 825.2h0M537.9 968.9h0M660.3 782.6h0M663.7 972.8h0M786.4 906.8h0M719.1 985.2h0M705.6 983.3h0M666.3 766.7h0M739.0 902.8h0M787.2 975.7h0M464.3 947.1h0M673.8 804.1h0M635.7 942.9h0M599.1 973.6h0M529.9 920.3h0M641.6 832.4h0M774.1 770.4h0M662.3 797.5h0M687.4 869.7h0M814.7 971.6h0M782.1 767.6h0M744.2 856.5h0M795.8 807.1h0M700.7 977.4h0M456.5 931.1h0M661.4 796.4h0M493.8 947.6h0M791.0 826.3h0M995.6 926.9h0M957.6 920.9h0M813.5 920.2h0M667.8 909.5h0M850.2 943.7h0M994.7 949.8h0M650.3 926.6h0M562.2 944.2h0M804.1 917.0h0M671.4 981.3h0M603.8 970.2h0M775.8 953.8h0M891.2 968.8h0M782.3 981.7h0M844.8 922.1h0M790.8 955.0h0M680.9 880.1h0M816.8 941.9h0M988.3 950.4h0M793.5 979.9h0M762.4 917.9h0M806.5 886.1h0M652.7 775.1h0M820.1 925.3h0M874.2 922.9h0M831.9 942.4h0M692.3 858.9h0M615.4 945.8h0M648.9 826.9h0M801.6 871.6h0M752.5 897.1h0M828.1 938.0h0M935.2 939.8h0M762.0 892.3h0M800.0 949.8h0M825.5 942.6h0M658.3 946.7h0M819.8 933.1h0M662.6 837.5h0M866.7 938.4h0M769.0 864.7h0M620.0 913.6h0M746.6 846.9h0M967.2 948.1h0M648.0 952.9h0M782.2 835.3h0M785.3 879.4h0M679.7 852.6h0M857.7 956.7h0M609.2 926.6h0M670.0 927.3h0M677.1 838.8h0M650.3 895.1h0M788.9 897.3h0M767.0 781.6h0M685.6 879.5h0M678.5 800.9h0M664.1 819.4h0M498.9 928.6h0M952.2 937.1h0M553.7 942.4h0M460.1 940.8h0M671.2 890.1h0M676.6 780.6h0M909.8 944.0h0M665.9 791.2h0M756.4 823.9h0M652.0 842.7h0M650.6 969.7h0M561.2 936.8h0M488.7 936.8h0M529.4 961.7h0M683.8 832.4h0M797.5 952.7h0M690.0 905.3h0M630.1 918.1h0M506.7 953.7h0M830.7 969.5h0M557.9 945.4h0M625.8 977.2h0M796.8 813.3h0M682.7 869.3h0M672.7 794.0h0M796.8 940.6h0M635.8 970.2h0M499.8 912.2h0M843.5 916.8h0M671.9 839.8h0M590.2 972.2h0M555.4 925.6h0M781.7 895.0h0M651.0 844.1h0M901.7 947.4h0M824.9 938.5h0M658.4 955.6h0M659.9 880.9h0M774.8 890.8h0M796.9 914.2h0M766.9 913.6h0M772.8 827.7h0M787.5 888.4h0M859.9 926.8h0M667.6 824.2h0M734.5 948.5h0M512.9 936.5h0M926.8 963.1h0M501.7 955.1h0M749.1 766.2h0M885.2 961.0h0M658.9 870.2h0M627.9 956.6h0M699.8 935.2h0M774.0 924.6h0M674.2 937.7h0M790.0 872.1h0M644.5 858.0h0M505.6 934.9h0M785.5 782.9h0M689.7 961.3h0M766.3 814.7h0M551.9 923.1h0M941.8 935.8h0M789.9 739.1h0M818.4 944.8h0M486.8 912.5h0M735.7 925.0h0M894.7 931.7h0M961.1 936.8h0M815.2 918.3h0M768.0 963.0h0M755.4 864.4h0M745.2 841.5h0M716.7 982.9h0M772.9 844.3h0M746.5 981.5h0M851.3 933.1h0M795.4 944.2h0M763.8 964.3h0M592.0 957.7h0M754.2 928.1h0M662.0 899.8h0M752.5 895.9h0M671.2 821.7h0M673.8 861.0h0M689.3 899.1h0M591.1 917.0h0M927.8 930.5h0M689.8 904.0h0M559.7 952.2h0M523.7 952.5h0M575.1 924.9h0M921.2 959.6h0M808.9 930.5h0M775.9 894.6h0M550.1 956.1h0M933.2 963.2h0M722.1 985.7h0M568.6 920.0h0M851.3 949.7h0M655.0 923.4h0M615.0 966.8h0M777.3 900.7h0M752.8 966.7h0M637.9 953.7h0M685.5 895.7h0M793.0 820.0h0M668.6 975.5h0M653.6 902.1h0M764.9 854.1h0M919.1 939.8h0M659.8 836.8h0M782.3 790.7h0M689.8 891.2h0M604.3 967.7h0M855.6 932.3h0M904.0 962.4h0M888.6 930.7h0M793.0 832.6h0M596.7 916.9h0M581.1 941.3h0M758.6 931.3h0M846.5 941.9h0M696.9 913.8h0M958.6 933.3h0M795.3 782.5h0M652.8 761.9h0M424.6 937.9h0M913.3 961.1h0M688.1 930.0h0M717.7 974.4h0M673.7 939.1h0M760.0 967.2h0M572.4 930.8h0M689.8 880.6h0M517.6 930.3h0M787.7 909.6h0M660.9 965.3h0M543.5 939.9h0M771.0 927.8h0M636.0 855.0h0M547.5 920.5h0M835.8 966.0h0M786.0 866.1h0M735.9 907.7h0M807.0 926.9h0M417.8 944.3h0M782.9 979.1h0M636.5 958.6h0M714.5 975.3h0M632.8 927.5h0M747.4 842.9h0M672.7 870.3h0M992.4 921.8h0M747.8 842.3h0M781.0 884.9h0M643.8 843.9h0M483.2 957.8h0M699.6 975.9h0M539.4 963.5h0M904.4 955.5h0M597.1 917.4h0M639.0 815.6h0M912.6 932.2h0M867.7 958.6h0M685.0 851.3h0M736.6 944.8h0M746.0 919.9h0M606.4 961.6h0M771.8 906.4h0M768.2 944.5h0M783.8 942.5h0M593.3 952.8h0M665.6 846.0h0M781.0 955.5h0M594.0 929.1h0M766.0 938.8h0M838.8 919.3h0M920.8 956.2h0M846.6 929.8h0M777.1 869.6h0M455.9 917.2h0M496.8 950.6h0M634.2 965.9h0M741.7 864.3h0M546.3 939.8h0M629.7 965.0h0M748.8 880.4h0M691.6 960.2h0M778.6 969.4h0M710.9 952.0h0M975.9 950.0h0M881.5 937.8h0M678.1 887.0h0M658.9 741.8h0M491.2 965.1h0M630.9 957.1h0M650.3 836.9h0M766.4 800.1h0M635.1 901.3h0M802.8 969.5h0M638.2 978.4h0M408.9 947.2h0M788.8 859.0h0M748.3 818.9h0M799.2 802.9h0M582.4 937.0h0M676.4 900.9h0M607.6 938.7h0M425.0 923.6h0M774.7 769.4h0M479.4 933.2h0M878.8 943.5h0M750.7 864.4h0M697.8 930.4h0M780.7 869.0h0M735.4 929.5h0M574.8 952.7h0M931.2 963.7h0M790.8 781.1h0M748.2 892.1h0M875.4 932.5h0M778.0 807.0h0M975.2 937.5h0M876.8 941.5h0M668.5 828.4h0M667.2 931.3h0M670.1 763.7h0M787.0 969.3h0M895.8 936.5h0M770.6 972.3h0M815.9 919.3h0M923.7 954.0h0M765.8 807.8h0M794.5 855.9h0M754.4 816.9h0M952.5 938.3h0M731.9 951.1h0M544.6 963.8h0M696.9 872.8h0M794.8 782.9h0M771.9 844.9h0M804.3 864.1h0M765.8 917.0h0M915.5 961.2h0M656.8 760.4h0M650.4 942.8h0M701.1 961.9h0M588.2 943.3h0M946.1 958.3h0M649.3 779.1h0M733.5 942.2h0M796.9 959.7h0M827.3 924.7h0M892.4 963.2h0M763.2 973.8h0M659.2 774.7h0M647.2 902.7h0M829.0 955.7h0M696.5 973.4h0M822.3 932.2h0M759.2 905.4h0M613.5 933.8h0M907.3 962.5h0M744.5 864.6h0M792.8 975.8h0M648.0 814.0h0M646.1 950.0h0M919.7 966.1h0M633.0 912.0h0M817.1 925.2h0M784.0 932.5h0M754.0 925.4h0M874.7 941.6h0M639.9 785.4h0M766.9 858.0h0M543.4 944.7h0M689.8 853.1h0M758.4 814.0h0M746.1 911.4h0M624.8 950.9h0M641.7 849.5h0M753.7 827.7h0M906.3 925.6h0M782.6 808.9h0M780.3 924.7h0M741.2 926.4h0M743.6 875.2h0M650.1 795.8h0M606.0 948.5h0M779.9 775.9h0M437.0 944.2h0M657.7 882.8h0M876.7 938.7h0M757.3 807.5h0M517.6 911.7h0M934.0 965.0h0M638.7 899.7h0M933.6 963.3h0M675.8 934.7h0M409.8 926.1h0M669.1 940.6h0M556.8 911.3h0M652.1 798.6h0M635.3 888.4h0M792.7 868.8h0M773.2 977.2h0M653.0 874.0h0M784.6 878.2h0M665.8 835.9h0M795.9 976.2h0M698.9 964.0h0M701.8 945.4h0M702.0 934.1h0M791.0 902.6h0M561.6 945.1h0M788.6 916.5h0M564.8 958.2h0M789.4 954.6h0M673.7 832.9h0M814.5 959.7h0M652.4 943.6h0M529.3 925.9h0M758.9 808.9h0M705.6 939.5h0M867.7 932.8h0M597.8 944.3h0M684.9 915.0h0M635.7 974.7h0M653.5 976.9h0M697.3 887.2h0M542.8 922.2h0M757.5 919.6h0M789.4 941.1h0M798.2 890.2h0M743.2 966.2h0M656.8 875.3h0M764.4 848.3h0M676.3 852.1h0M625.1 941.5h0M563.0 959.0h0M988.5 914.7h0M749.6 884.8h0M683.5 938.4h0M776.5 865.3h0M771.9 782.1h0M754.5 818.5h0M794.6 883.2h0M711.3 971.0h0M656.7 893.4h0M665.7 820.7h0M811.4 937.7h0M665.8 825.2h0M768.0 951.8h0M680.0 861.9h0M773.8 846.1h0M443.8 924.8h0M739.5 984.5h0M670.2 933.8h0M743.5 876.0h0M573.9 971.5h0M742.0 957.7h0M631.2 932.3h0M693.3 874.9h0M934.0 931.4h0M803.5 972.5h0M821.8 934.1h0M644.9 795.6h0M615.1 934.7h0M713.6 955.5h0M750.0 866.3h0M652.0 757.5h0M737.3 932.3h0M671.7 898.9h0M750.9 773.0h0M433.9 942.5h0M951.3 942.5h0M743.5 971.5h0M805.2 970.8h0M817.3 951.0h0M994.6 921.5h0M630.3 963.8h0M954.4 956.2h0M761.5 830.3h0M509.5 924.7h0M682.9 866.8h0M666.1 896.5h0M638.3 850.6h0M634.1 929.5h0M635.9 939.7h0M818.4 912.4h0M624.6 954.1h0M691.9 947.0h0M498.5 922.3h0M445.3 927.7h0M672.8 808.0h0M758.7 891.7h0M726.0 980.9h0M955.3 943.2h0M632.5 929.5h0M822.6 949.7h0M845.5 915.0h0M937.6 947.2h0M538.2 953.9h0M650.1 898.8h0M720.4 972.7h0M780.9 927.0h0M882.6 960.5h0M774.1 827.9h0M642.2 899.2h0M484.4 949.4h0M776.1 897.0h0M478.6 911.9h0M632.3 958.0h0M499.2 924.0h0M944.0 947.6h0M805.5 956.4h0M655.3 978.1h0M854.3 956.5h0M730.3 980.8h0M802.0 867.6h0M693.8 848.1h0M647.0 968.6h0M787.0 853.6h0M594.4 954.0h0M933.6 963.3h0M752.6 817.0h0M749.2 900.7h0M762.6 851.5h0M787.1 955.6h0M893.8 927.4h0M777.1 827.1h0M748.8 770.9h0M800.8 962.1h0M574.9 971.3h0M775.4 916.1h0M648.6 799.8h0M604.4 967.6h0M642.8 865.7h0M656.3 952.1h0M429.2 950.6h0M664.8 902.1h0M666.1 834.9h0M661.4 849.2h0M765.2 798.1h0M879.2 927.3h0M683.2 976.4h0M707.9 977.2h0M940.5 925.7h0M638.6 788.9h0M758.3 969.2h0M687.1 947.8h0M609.4 958.0h0M765.7 938.6h0M770.0 962.6h0M768.1 885.3h0M770.2 780.9h0M422.8 930.4h0M472.4 925.5h0M638.0 774.6h0M618.2 956.9h0M708.4 946.4h0M758.8 814.5h0M658.9 805.6h0M785.0 951.2h0M705.3 976.5h0M906.2 938.3h0M781.5 837.9h0M663.5 889.7h0M734.7 926.4h0M792.6 952.2h0M638.2 811.8h0M772.7 884.5h0M762.0 976.4h0M747.7 856.3h0M599.6 972.4h0M866.0 920.8h0M766.4 853.5h0M707.8 954.6h0M618.8 957.0h0M763.2 811.1h0M833.7 916.7h0M901.4 926.8h0M725.3 967.7h0M693.9 907.4h0M798.3 952.8h0M975.3 921.2h0M854.6 929.0h0M659.0 904.7h0M498.4 922.1h0M723.0 972.1h0M943.8 920.6h0M766.6 890.5h0M961.7 954.2h0M751.5 819.7h0M714.5 976.1h0M670.4 854.5h0M955.1 919.4h0M591.8 918.8h0M612.8 932.0h0M770.6 744.4h0M752.8 750.1h0M903.6 933.4h0M677.8 955.2h0M748.4 806.1h0M659.1 895.8h0M637.8 815.0h0M589.6 940.1h0M978.3 938.4h0M936.3 946.8h0M788.8 854.2h0M775.8 906.3h0M636.2 799.0h0M741.9 952.7h0M693.2 956.4h0M854.5 967.8h0M810.3 967.5h0M681.4 901.4h0M688.6 925.9h0M505.8 946.3h0M781.4 789.0h0M669.8 794.8h0M800.4 821.9h0M959.7 937.4h0M517.9 947.1h0M605.3 928.6h0M822.5 913.5h0M961.4 910.5h0M914.4 940.5h0M896.5 933.0h0M624.4 921.2h0M955.5 931.1h0M757.9 956.3h0M907.2 928.6h0M592.0 967.0h0M633.5 934.4h0M784.0 860.0h0M789.5 907.2h0M841.2 928.5h0M676.9 886.6h0M661.2 836.5h0M653.2 801.6h0M987.2 943.3h0M815.1 942.6h0M585.4 931.3h0M822.0 950.2h0M667.5 968.0h0M622.0 948.3h0M530.9 961.8h0M792.4 835.1h0M775.5 870.7h0M653.1 805.6h0M658.9 773.0h0M543.3 911.5h0M637.8 815.1h0M689.5 953.9h0M794.9 948.2h0M641.6 918.8h0M860.9 920.0h0M558.0 921.4h0M728.8 964.9h0M699.4 876.8h0M780.9 781.3h0M844.3 964.8h0M826.2 964.1h0M765.5 917.1h0M634.9 952.2h0M766.4 800.8h0M785.4 955.1h0M756.7 916.6h0M675.0 819.8h0M790.6 947.2h0M865.4 937.5h0M645.4 817.4h0M696.6 922.4h0M670.8 824.1h0M661.4 888.7h0M879.8 950.5h0M935.5 946.0h0M787.9 794.3h0M761.7 913.9h0M763.4 830.8h0M691.7 983.2h0M783.0 897.4h0M723.7 980.4h0M638.7 861.4h0M991.8 922.5h0M785.9 914.7h0M658.0 909.3h0M757.1 815.7h0M734.5 925.7h0M803.2 857.0h0M786.9 794.3h0M767.7 927.4h0M636.2 970.8h0M772.7 798.9h0M841.7 915.3h0M416.4 921.4h0M699.8 918.6h0M650.6 901.2h0M642.6 974.8h0M673.9 777.3h0M670.7 935.3h0M637.0 806.8h0M744.0 942.7h0M641.2 838.6h0M500.7 966.3h0M774.6 960.1h0M871.4 969.8h0M763.3 772.0h0M669.8 787.9h0M782.5 800.2h0M610.5 952.5h0M981.4 923.5h0M865.8 926.1h0M796.8 788.8h0M417.8 930.5h0M651.8 859.7h0M666.7 853.6h0M762.8 819.8h0M786.3 747.7h0M838.4 932.4h0M567.5 944.8h0M669.0 766.6h0M959.7 917.9h0M745.9 875.5h0M400.6 944.0h0M409.0 948.1h0M418.3 951.3h0M426.3 953.3h0M430.9 953.6h0M435.0 954.1h0M440.0 956.2h0M444.1 956.2h0M449.3 957.8h0M453.4 959.8h0M458.4 960.4h0M463.7 960.1h0M466.9 961.4h0M472.5 962.2h0M476.4 963.1h0M481.4 963.6h0M486.5 964.3h0M490.2 965.2h0M493.8 965.1h0M499.5 965.7h0M502.7 966.9h0M507.9 968.3h0M512.7 967.8h0M517.0 969.3h0M522.0 970.3h0M525.7 970.6h0M530.6 971.2h0M536.0 970.5h0M538.7 970.3h0M544.3 972.0h0M548.8 972.0h0M553.4 971.5h0M557.6 971.7h0M562.6 973.2h0M566.5 972.5h0M570.5 974.0h0M575.4 972.6h0M580.7 974.1h0M585.3 974.4h0M589.7 974.2h0M593.4 974.3h0M597.0 974.5h0M601.9 975.3h0M606.4 975.7h0M610.6 975.6h0M615.2 977.3h0M619.9 976.5h0M625.9 978.4h0M629.9 977.9h0M633.2 979.4h0M637.8 980.1h0M643.2 980.7h0M647.5 980.2h0M652.8 980.5h0M657.2 982.1h0M661.5 982.1h0M665.0 981.7h0M669.9 983.2h0M675.0 982.7h0M678.0 983.5h0M683.8 983.7h0M687.8 983.5h0M692.0 984.5h0M696.4 983.8h0M702.3 984.8h0M706.7 986.0h0M709.9 984.7h0M714.1 985.1h0M720.0 986.5h0M723.7 985.3h0M728.6 986.3h0M733.8 985.3h0M738.4 984.3h0M742.3 984.7h0M745.9 984.3h0M750.5 984.2h0M755.9 982.8h0M759.1 983.1h0M764.9 983.6h0M769.4 982.8h0M772.8 982.7h0M777.4 982.1h0M782.8 982.3h0M786.8 981.1h0M791.6 980.3h0M796.1 980.1h0M799.8 979.9h0M804.3 978.5h0M809.8 978.5h0M813.1 977.5h0M818.2 977.9h0M823.8 977.0h0M826.7 976.0h0M832.3 975.5h0M837.2 975.8h0M841.8 975.1h0M844.6 975.5h0M850.2 974.7h0M854.7 974.4h0M859.5 975.4h0M863.9 974.9h0M868.6 974.0h0M872.3 973.8h0M876.2 973.1h0M881.6 971.9h0M885.7 972.3h0M890.6 972.1h0M894.3 971.6h0M900.0 969.9h0M903.1 970.6h0M907.7 970.2h0M912.8 969.5h0M917.0 969.0h0M922.5 966.9h0M926.2 967.2h0M931.2 966.6h0M935.5 965.3h0M940.6 965.7h0M944.0 964.0h0M949.2 964.0h0M953.9 963.8h0M958.4 962.4h0M961.8 961.6h0M966.9 960.8h0M971.8 961.2h0M975.6 960.0h0M980.4 959.0h0M984.4 958.8h0M989.1 958.5h0M993.4 956.9h0M999.4 957.3h0M1002.7 956.4h0M1007.4 955.7h0M686.5 798.2h0M748.0 798.4h0M687.6 807.3h0M745.9 808.3h0M687.8 814.9h0M746.0 812.6h0M689.1 818.9h0M749.0 819.9h0M692.5 824.8h0M748.2 825.8h0M691.4 831.2h0M747.2 831.8h0M694.3 841.0h0M744.0 838.5h0M693.5 843.7h0M742.2 847.2h0M693.0 850.8h0M744.5 852.2h0M695.9 856.8h0M741.3 860.1h0M696.8 865.2h0M740.9 864.7h0M699.0 873.0h0M741.7 871.5h0M699.5 879.0h0M739.8 878.0h0M700.4 885.4h0M738.4 884.3h0M702.7 891.4h0M740.7 889.8h0M702.6 898.4h0M736.8 897.9h0M704.1 904.6h0M738.9 904.8h0M706.9 909.7h0M736.5 908.7h0M704.8 915.2h0M736.9 918.4h0M706.7 924.5h0M734.8 922.3h0M709.2 931.6h0M733.0 931.4h0M708.5 935.5h0M733.4 937.3h0M710.4 942.3h0M731.1 944.2h0M712.3 949.0h0M728.2 949.5h0M712.0 957.2h0M730.5 956.5h0M773.9 278.8h0M773.9 323.9h0M770.5 353.6h0M763.8 401.0h0M805.2 414.8h0M645.6 463.3h0M641.9 466.8h0M770.5 480.8h0M763.8 491.9h0M768.8 537.0h0M798.5 537.4h0M782.0 553.2h0M774.9 567.3h0M756.0 576.1h0M785.0 577.8h0M794.1 573.7h0M804.5 573.4h0M764.8 590.9h0M758.7 596.0h0M795.1 595.3h0M768.1 520.2h0M646.9 552.2h0M345.5 908.5h0M342.9 915.0h0M353.6 911.7h0M362.5 911.0h0M371.3 915.6h0M371.9 924.4h0M381.5 917.6h0M391.6 913.0h0M391.6 934.6h0M395.4 945.5h0M396.7 925.7h0M641.2 616.4h0M676.2 615.9h0M664.0 635.9h0M636.1 651.9h0M645.0 652.4h0M633.6 659.0h0M670.4 658.2h0M647.5 667.1h0M638.7 672.2h0M652.6 676.7h0M670.4 680.3h0M639.9 692.4h0M648.3 695.0h0M661.0 695.5h0M664.0 703.1h0M647.5 710.7h0M656.4 715.3h0M665.3 716.5h0M674.9 710.7h0M666.9 660.6h0M647.7 727.9h0M655.8 731.0h0M673.4 730.0h0M671.0 738.1h0M684.6 738.7h0M650.7 743.2h0M638.5 746.8h0M660.9 747.2h0M668.0 751.3h0M675.1 753.3h0M650.7 755.3h0M639.6 755.3h0M767.4 602.8h0M766.4 611.3h0M792.1 618.8h0M761.3 625.5h0M770.0 630.6h0M756.2 634.6h0M783.6 633.6h0M768.4 639.7h0M791.7 647.8h0M800.8 646.2h0M793.7 655.9h0M803.9 659.0h0M768.8 654.9h0M761.3 661.0h0M778.5 666.1h0M774.5 670.1h0M762.3 673.2h0M769.4 682.3h0M753.8 685.3h0M793.7 683.3h0M774.1 690.0h0M779.5 695.5h0M751.1 699.5h0M785.6 702.6h0M795.8 701.6h0M762.3 704.6h0M757.2 711.7h0M765.3 715.8h0M781.6 720.8h0M798.4 722.3h0M760.3 725.9h0M772.4 730.0h0M796.4 737.1h0M778.5 739.1h0M768.4 741.1h0M756.2 743.2h0M784.6 743.2h0M751.1 749.2h0M794.8 749.2h0M762.3 753.3h0M774.5 753.3h0M799.8 759.4h0M748.1 757.4h0M782.6 755.3h0M800.0 596.1h0M800.0 701.7h0M807.6 766.8h0M847.3 908.8h0M871.0 910.5h0M901.4 916.4h0M911.6 919.8h0M930.2 921.5h0M950.5 911.3h0M942.0 919.8h0M964.0 908.8h0M969.1 919.8h0M986.0 910.5h0M994.4 916.4h0M979.2 923.1h0M891.3 927.4h0M920.0 929.9h0M803.4 805.6h0M806.8 822.6h0M805.9 837.8h0M801.7 849.6h0M806.8 858.1h0M803.4 869.9h0M803.4 878.3h0M1038.2 909.0h0M1006.9 918.3h0M1029.1 921.4h0M1006.9 928.5h0M1029.4 930.2h0M1020.1 933.6h0M1048.9 931.0h0M1051.4 934.4h0M1041.8 936.6h0M1005.8 937.8h0M1011.7 936.9h0M993.1 930.2h0M988.0 935.2h0M1026.5 950.5h0M996.5 950.5h0M991.4 957.2h0M999.5 963.1h0M1119.5 948.8h0M988.0 948.8h0"/>
<path class="d b" d="M600.1 874.8h0M586.6 811.5h0M612.7 828.9h0M609.5 904.6h0M605.2 849.9h0M598.1 857.3h0M582.1 802.8h0M604.2 841.2h0M616.6 879.7h0M626.9 831.6h0M575.4 851.9h0M619.6 857.8h0M581.9 847.6h0M605.0 886.9h0M575.1 864.2h0M573.6 904.1h0M593.7 817.6h0M592.4 813.5h0M599.9 863.6h0M605.9 861.1h0M597.0 859.6h0M592.8 859.8h0M628.3 892.8h0M617.4 870.9h0M617.6 799.1h0M629.3 857.0h0M619.1 861.4h0M615.7 835.9h0M609.6 867.6h0M617.4 827.5h0M625.3 804.0h0M586.6 807.1h0M575.3 862.0h0M630.6 778.0h0M630.6 859.1h0M610.6 901.6h0M591.3 879.9h0M620.1 874.1h0M619.2 851.0h0M587.0 839.3h0M575.2 905.3h0M628.1 881.4h0M625.6 803.2h0M625.3 856.6h0M603.0 873.8h0M615.7 879.9h0M586.0 837.1h0M594.5 797.5h0M631.8 843.7h0M605.7 871.9h0M561.5 890.9h0M617.7 773.9h0M615.0 868.4h0M587.9 839.3h0M533.5 875.2h0M607.1 787.1h0M589.3 833.7h0M617.2 795.4h0M632.5 846.0h0M625.7 861.6h0M631.9 845.0h0M594.3 810.8h0M607.4 879.8h0M585.9 879.0h0M596.8 817.0h0M576.1 863.2h0M588.9 886.4h0M604.7 890.8h0M588.2 845.0h0M587.4 824.2h0M624.9 766.9h0M603.7 817.9h0M588.6 897.7h0M610.2 869.5h0M621.6 857.1h0M622.1 795.7h0M596.2 787.9h0M587.2 855.7h0M597.2 813.3h0M589.4 840.0h0M622.3 806.3h0M567.5 885.3h0M582.7 885.3h0M623.1 807.6h0M595.3 807.6h0M605.0 844.0h0M599.2 807.6h0M612.2 882.1h0M609.8 863.7h0M627.0 854.7h0M617.5 846.5h0M631.0 765.4h0M580.2 856.6h0M631.3 820.9h0M582.8 849.5h0M599.5 883.6h0M614.9 881.3h0M591.5 897.9h0M607.4 868.2h0M586.1 844.0h0M618.2 819.4h0M615.4 901.6h0M627.4 861.5h0M622.9 891.1h0M602.0 904.5h0M586.8 903.7h0M592.9 814.2h0M600.1 824.8h0M581.7 864.6h0M628.1 892.4h0M617.2 837.4h0M581.4 786.5h0M622.6 887.7h0M607.2 881.6h0M579.3 900.7h0M572.7 903.6h0M616.2 898.7h0M606.5 893.4h0M607.9 811.5h0M595.0 873.4h0M613.7 776.2h0M585.8 840.1h0M576.6 885.6h0M598.7 847.8h0M598.5 828.4h0M579.2 873.3h0M618.0 841.0h0M601.9 846.8h0M621.6 844.7h0M584.0 882.2h0M632.5 767.4h0M546.0 901.5h0M599.9 817.8h0M605.0 855.4h0M602.7 854.2h0M624.6 854.8h0M610.4 801.0h0M593.7 848.7h0M563.2 885.3h0M606.3 858.5h0M604.4 818.1h0M608.2 850.0h0M594.1 899.7h0M584.8 891.8h0M622.1 855.7h0M606.1 904.9h0M571.9 887.0h0M600.8 812.7h0M626.4 825.4h0M564.0 882.2h0M625.2 769.6h0M584.8 888.8h0M627.9 813.6h0M617.7 893.6h0M581.8 807.9h0M617.7 781.9h0M592.8 840.8h0M626.0 896.7h0M624.2 828.3h0M605.3 890.4h0M617.8 827.2h0M606.7 823.2h0M614.9 808.8h0M577.1 864.1h0M624.1 859.5h0M585.5 881.5h0M588.2 786.3h0M583.8 866.1h0M615.6 897.4h0M612.8 878.5h0M569.2 858.8h0M589.2 817.9h0M596.3 803.0h0M602.8 897.1h0M560.0 870.0h0M595.8 889.4h0M577.9 843.3h0M585.9 866.2h0M632.4 837.0h0M616.7 851.1h0M559.9 902.5h0M612.3 864.5h0M612.4 788.7h0M617.1 892.1h0M619.3 884.0h0M626.1 821.2h0M597.6 802.5h0M603.4 804.0h0M608.9 850.4h0M632.3 895.1h0M595.9 897.3h0M621.7 821.4h0M566.7 852.0h0M613.5 793.3h0M609.4 828.0h0M623.3 846.4h0M607.8 858.2h0M617.4 902.5h0M580.5 872.7h0M569.4 854.8h0M616.7 821.3h0M604.1 878.0h0M599.4 838.4h0M563.0 902.5h0M609.9 876.4h0M613.0 865.9h0M618.2 879.5h0M631.4 803.4h0M590.0 826.2h0M581.1 846.9h0M602.3 789.4h0M581.3 893.3h0M572.9 871.9h0M600.9 888.9h0M622.7 780.5h0M625.3 785.9h0M616.6 835.7h0M617.4 887.6h0M629.2 861.9h0M612.1 820.6h0M618.3 852.9h0M628.5 892.6h0M604.0 788.3h0M611.3 869.2h0M595.4 874.0h0M615.1 789.7h0M607.9 828.8h0M620.6 861.5h0M627.9 796.4h0M619.1 820.2h0M615.4 821.8h0M588.8 801.1h0M537.1 867.9h0M612.8 902.9h0M613.8 770.8h0M556.0 872.6h0M609.8 856.5h0M587.7 868.6h0M589.9 856.4h0M606.1 788.7h0M598.3 773.8h0M563.3 854.1h0M612.3 767.6h0M618.2 877.9h0M558.0 876.6h0M595.2 801.0h0M602.9 876.5h0M606.9 810.9h0M578.0 800.5h0M606.1 847.8h0M612.2 886.0h0M584.5 854.0h0M598.2 803.6h0M586.3 895.0h0M562.2 883.9h0M625.8 777.5h0M572.9 858.1h0M609.0 843.7h0M624.4 821.2h0M606.9 869.1h0M576.1 868.5h0M603.2 771.8h0M595.8 787.6h0M599.1 778.9h0M627.1 855.9h0M622.8 900.0h0M610.3 869.9h0M583.9 804.7h0M619.2 846.5h0M631.4 843.2h0M605.7 896.1h0M595.5 807.7h0M593.2 893.2h0M604.3 829.7h0M624.8 900.5h0M351.6 245.6h0M482.9 240.5h0M546.3 347.8h0M576.8 352.5h0M581.8 359.1h0M502.4 394.5h0M464.6 430.5h0M534.7 436.6h0M527.6 447.0h0M423.9 473.3h0M593.6 475.6h0M517.8 487.7h0M373.1 497.8h0M393.6 514.7h0M626.7 530.3h0M628.4 581.8h0M627.4 595.3h0M192.6 731.4h0M210.8 761.9h0M141.3 866.9h0M385.3 781.7h0M386.8 796.9h0M372.6 836.2h0M316.3 839.2h0M326.0 838.7h0M291.2 847.1h0M290.7 877.5h0M302.1 900.1h0M324.2 894.0h0M339.9 880.6h0M338.6 905.9h0M352.3 888.9h0M359.7 892.0h0M359.7 880.6h0M367.5 878.8h0M369.6 872.4h0M381.5 875.7h0M387.8 873.0h0M372.6 904.1h0M379.5 904.9h0M390.4 906.7h0M398.0 902.9h0M593.0 527.6h0M547.9 543.6h0M541.0 552.2h0M557.5 549.9h0M564.4 553.0h0M506.0 561.1h0M612.5 574.5h0M486.0 593.0h0M500.5 597.3h0M504.8 602.4h0M570.2 598.6h0M584.6 596.1h0M404.6 606.2h0M598.1 608.0h0M604.4 614.6h0M503.0 615.1h0M577.0 620.9h0M613.3 626.0h0M631.1 630.3h0M563.9 630.3h0M560.1 634.6h0M620.9 641.2h0M471.3 644.3h0M516.9 643.5h0M581.6 646.0h0M595.0 644.8h0M483.5 653.6h0M607.0 654.9h0M506.3 660.7h0M540.3 660.2h0M595.0 660.7h0M613.3 665.8h0M618.4 671.4h0M629.8 680.3h0M537.2 683.1h0M506.0 691.4h0M546.1 693.7h0M609.0 694.0h0M546.9 702.6h0M577.8 703.9h0M580.8 708.9h0M631.1 715.8h0M480.7 719.6h0M555.5 717.8h0M537.2 723.4h0M603.2 717.8h0M610.8 714.8h0M618.4 717.8h0M514.9 727.9h0M553.2 730.0h0M562.6 731.7h0M580.8 733.0h0M594.3 731.0h0M477.1 733.0h0M622.9 730.5h0M532.7 740.1h0M459.1 743.7h0M494.6 743.9h0M410.9 745.7h0M478.9 748.7h0M539.3 750.8h0M585.9 748.2h0M603.2 746.5h0M612.0 745.7h0M623.4 743.2h0M457.3 759.1h0M457.3 764.7h0M516.9 758.9h0M423.6 767.3h0M600.1 764.7h0M528.4 776.9h0M548.1 773.1h0M561.3 773.6h0M574.0 773.6h0M585.4 771.1h0M413.7 783.7h0M456.1 783.7h0M474.6 781.2h0M494.6 782.0h0M467.5 791.9h0M429.5 792.6h0M475.6 806.6h0M490.8 810.4h0M516.9 801.5h0M520.7 805.3h0M555.7 801.0h0M412.2 819.2h0M518.2 815.4h0M540.3 816.7h0M552.4 809.1h0M626.4 740.1h0M615.8 754.0h0M608.4 754.0h0M631.6 764.2h0M618.6 768.8h0M614.9 781.9h0M627.0 787.4h0M581.4 787.4h0M520.0 820.9h0M534.9 823.7h0M554.4 815.3h0M566.5 813.5h0M564.7 824.7h0M548.5 829.3h0M564.7 830.2h0M507.5 837.3h0M491.2 843.3h0M498.6 842.3h0M504.2 847.9h0M536.7 841.4h0M562.8 842.9h0M480.0 854.4h0M556.3 852.6h0M498.6 860.9h0M513.5 860.9h0M521.9 866.5h0M527.4 870.2h0M551.6 866.5h0M565.6 869.3h0M490.2 870.2h0M548.8 874.0h0M483.7 878.6h0M504.2 879.5h0M514.4 874.9h0M536.7 879.5h0M532.1 886.0h0M506.0 891.6h0M538.6 893.5h0M495.8 900.0h0M506.0 900.0h0M482.8 904.7h0M538.6 906.5h0M547.0 897.2h0M554.4 884.2h0M558.1 897.2h0M562.8 881.4h0M411.8 847.0h0M406.2 863.2h0M481.1 875.1h0M479.6 880.1h0M446.3 880.6h0M428.1 885.7h0M409.9 887.7h0M441.0 889.8h0M466.9 890.8h0M405.5 901.4h0M418.4 906.0h0M440.0 901.4h0M449.1 902.5h0M476.0 905.5h0"/>
<path class="d c" d="M848.3 895.2h0M829.4 889.8h0M817.5 880.1h0M823.5 846.8h0M826.1 889.7h0M844.1 903.0h0M855.5 897.9h0M818.1 889.7h0M823.5 902.8h0M821.3 902.7h0M810.8 860.6h0M829.4 877.8h0M814.5 900.9h0M857.6 892.2h0M850.1 891.6h0M827.8 900.1h0M820.1 886.3h0M850.4 898.5h0M817.2 876.4h0M812.3 900.4h0M834.5 888.7h0M830.5 891.2h0M823.8 883.1h0M830.9 878.7h0M817.6 901.4h0M828.0 904.5h0M821.0 868.0h0M821.2 861.0h0M825.1 867.4h0M836.4 901.0h0M944.4 57.5h0M834.8 491.6h0M817.0 514.1h0M830.3 640.1h0M825.2 678.9h0M815.0 706.0h0M837.4 701.6h0M826.8 720.8h0M822.1 726.9h0M810.0 746.2h0M834.3 747.2h0M838.4 755.3h0M853.3 609.9h0M844.8 621.8h0M850.7 634.6h0M862.2 689.9h0M887.1 712.7h0M899.7 744.0h0M846.2 752.1h0M860.5 762.6h0M905.2 765.1h0M958.4 766.8h0M840.6 770.2h0M811.8 767.7h0M817.8 777.0h0M880.6 779.5h0M809.3 787.9h0M827.0 790.4h0M836.3 796.3h0M828.4 802.3h0M867.3 798.9h0M880.0 798.5h0M904.0 790.1h0M934.7 791.8h0M936.6 802.3h0M942.0 808.7h0M857.5 808.2h0M859.2 812.4h0M879.5 812.7h0M849.9 825.1h0M907.7 825.9h0M827.0 819.2h0M821.1 826.8h0M816.1 832.7h0M832.1 836.9h0M822.0 842.8h0M966.9 843.2h0M996.1 849.6h0M952.7 858.4h0M867.6 856.7h0M864.2 862.3h0M896.9 853.8h0M894.2 863.1h0M911.6 859.7h0M909.9 867.4h0M915.8 880.5h0M903.5 886.8h0M906.5 893.9h0M932.4 899.8h0M970.8 903.7h0M1000.0 899.8h0M818.6 856.4h0M825.4 861.4h0M833.0 861.4h0M845.6 866.5h0M852.4 875.0h0M816.9 869.9h0M825.4 875.0h0M833.0 880.0h0M815.2 881.7h0M845.6 881.7h0M860.0 885.1h0M810.1 890.2h0M822.0 890.2h0M833.8 891.9h0M847.3 893.6h0M855.8 895.2h0M868.5 891.0h0M876.9 895.2h0M810.1 900.3h0M820.3 900.3h0M830.4 902.0h0M849.0 900.3h0M862.6 903.7h0M871.0 898.6h0M885.4 900.3h0M894.7 898.6h0M896.4 907.1h0M838.9 885.1h0M827.0 885.1h0M816.9 893.6h0M840.6 898.6h0M887.9 903.7h0M1122.7 850.7h0M1030.6 880.6h0M1047.5 878.6h0M1013.9 893.0h0M1032.3 896.0h0M1011.7 901.1h0M1022.3 904.5h0"/>
<path class="d g" d="M480.0 913.7h0M465.0 910.7h0M580.9 912.6h0M614.4 913.2h0M557.9 917.0h0M574.5 912.5h0M622.3 911.9h0M541.0 916.7h0M833.9 911.1h0M508.8 914.9h0M598.4 914.2h0M525.8 913.6h0M542.9 912.7h0M979.1 912.8h0M623.5 913.1h0M950.1 914.5h0M536.6 914.6h0M621.1 916.0h0M487.4 910.6h0M842.7 912.7h0M568.8 916.5h0M967.2 916.1h0M538.7 916.1h0M576.2 913.4h0M621.5 915.7h0M565.7 915.7h0M826.9 913.7h0M501.8 913.4h0M827.3 915.3h0M568.5 916.7h0M531.5 911.9h0M870.5 912.2h0M523.3 911.8h0M831.4 914.7h0M611.9 913.1h0M428.2 913.1h0M569.1 913.2h0M620.0 913.6h0M499.8 912.2h0M843.5 916.8h0M486.8 912.5h0M596.7 916.9h0M633.0 912.0h0M556.8 911.3h0M845.5 915.0h0M961.4 910.5h0M362.5 911.0h0M391.6 913.0h0M847.3 908.8h0M901.4 916.4h0M964.0 908.8h0M994.4 916.4h0"/>
<!-- gene labels -->
<path d="M527.1 332.8L544.4 346M591.4 329.3L577.8 350" stroke="#000" stroke-width="2.8" stroke-linecap="round" fill="none"/>
<g class="gl">
<text x="866.8" y="91.6">Cox6a2</text>
<text x="472.9" y="227.5">Fgfr2</text>
<text x="300.4" y="280.8">Pzp</text>
<text x="709.7" y="265.3">Pdia6</text>
<text x="786.8" y="312.5">Calr</text>
<text x="423.2" y="338.7">Card10</text>
<text x="542.8" y="324.6">St3gal4</text>
<text x="594.9" y="366.4">Dusp1</text>
<text x="469.4" y="380.7">Egr1</text>
<text x="783.6" y="383.8">Pdia3</text>
<text x="671.7" y="408.8">Ddost</text>
<text x="398.6" y="422.7">Pah</text>
<text x="525.9" y="422.7">Epn3</text>
<text x="828.9" y="425.8">Rbp4</text>
<text x="631.3" y="450.8">H3f3b</text>
<text x="324.4" y="464.6">Anxa8</text>
<text x="442.1" y="475.2">Krt17</text>
<text x="541.5" y="471.5">C3</text>
<text x="754.1" y="468.0">Magt1</text>
<text x="632.7" y="501.9">Klf10</text>
<text x="437.9" y="522.9">Slc39a4</text>
<text x="314.9" y="532.8">Car2</text>
<text x="723.5" y="527.7">Ssr4</text>
<text x="825.6" y="526.5">Edn3</text>
</g>
</svg>
</body></html>
